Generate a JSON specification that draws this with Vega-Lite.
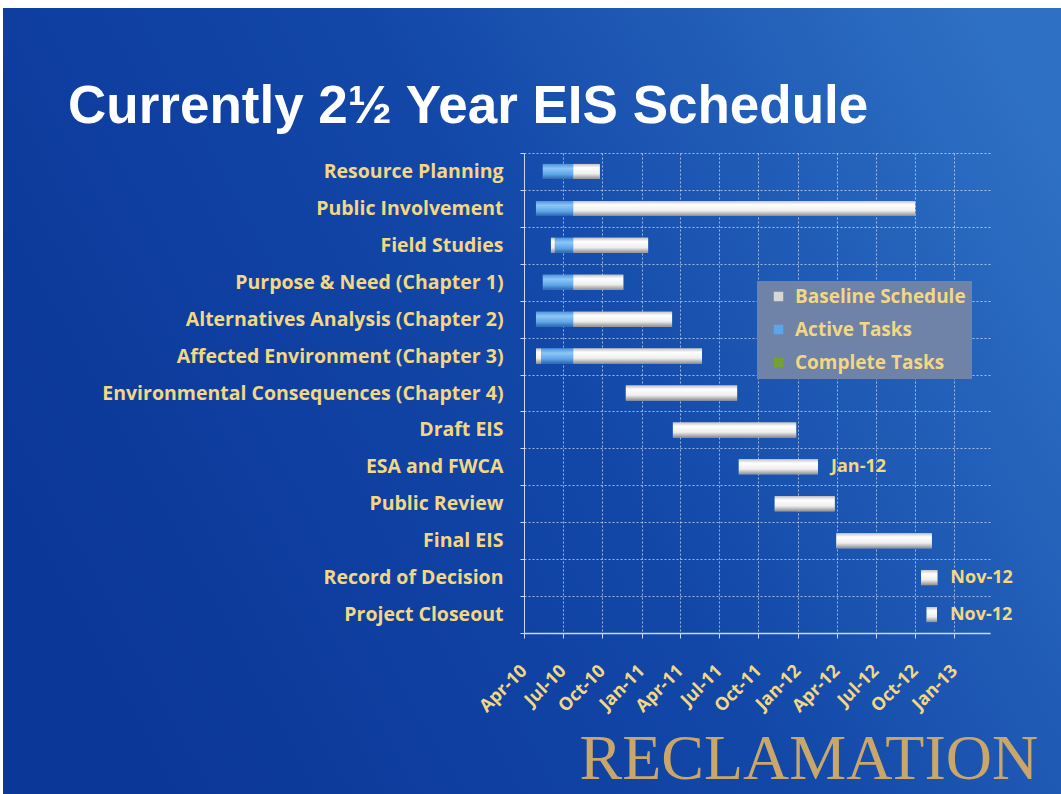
{
  "$schema": "https://vega.github.io/schema/vega-lite/v6.json",
  "width": 1058,
  "height": 786,
  "autosize": "none",
  "padding": {"top": 8, "left": 3, "right": 0, "bottom": 0},
  "background": "white",
  "title": {
    "text": "Currently 2½ Year EIS Schedule",
    "anchor": "start",
    "frame": "group",
    "font": "Liberation Sans",
    "fontSize": 53,
    "fontWeight": "bold",
    "color": "white",
    "baseline": "alphabetic",
    "offset": 0,
    "dx": 65,
    "dy": 178
  },
  "data": {
    "values": [
      {"task": "Resource Planning", "type": "Active Tasks", "start": "2010-05-15", "end": "2010-07-25"},
      {"task": "Resource Planning", "type": "Baseline Schedule", "start": "2010-07-25", "end": "2010-09-25"},
      {"task": "Public Involvement", "type": "Active Tasks", "start": "2010-04-29", "end": "2010-07-25"},
      {"task": "Public Involvement", "type": "Baseline Schedule", "start": "2010-07-25", "end": "2012-10-01"},
      {"task": "Field Studies", "type": "Baseline Schedule", "start": "2010-06-03", "end": "2010-06-12"},
      {"task": "Field Studies", "type": "Active Tasks", "start": "2010-06-12", "end": "2010-07-25"},
      {"task": "Field Studies", "type": "Baseline Schedule", "start": "2010-07-25", "end": "2011-01-16"},
      {"task": "Purpose & Need (Chapter 1)", "type": "Active Tasks", "start": "2010-05-15", "end": "2010-07-25"},
      {"task": "Purpose & Need (Chapter 1)", "type": "Baseline Schedule", "start": "2010-07-25", "end": "2010-11-19"},
      {"task": "Alternatives Analysis (Chapter 2)", "type": "Active Tasks", "start": "2010-04-29", "end": "2010-07-25"},
      {"task": "Alternatives Analysis (Chapter 2)", "type": "Baseline Schedule", "start": "2010-07-25", "end": "2011-03-13"},
      {"task": "Affected Environment (Chapter 3)", "type": "Baseline Schedule", "start": "2010-04-29", "end": "2010-05-11"},
      {"task": "Affected Environment (Chapter 3)", "type": "Active Tasks", "start": "2010-05-11", "end": "2010-07-25"},
      {"task": "Affected Environment (Chapter 3)", "type": "Baseline Schedule", "start": "2010-07-25", "end": "2011-05-22"},
      {"task": "Environmental Consequences (Chapter 4)", "type": "Baseline Schedule", "start": "2010-11-25", "end": "2011-08-12"},
      {"task": "Draft EIS", "type": "Baseline Schedule", "start": "2011-03-15", "end": "2011-12-28"},
      {"task": "ESA and FWCA", "type": "Baseline Schedule", "start": "2011-08-16", "end": "2012-02-17", "label": "Jan-12"},
      {"task": "Public Review", "type": "Baseline Schedule", "start": "2011-11-08", "end": "2012-03-27"},
      {"task": "Final EIS", "type": "Baseline Schedule", "start": "2012-03-31", "end": "2012-11-09"},
      {"task": "Record of Decision", "type": "Baseline Schedule", "start": "2012-10-15", "end": "2012-11-22", "label": "Nov-12"},
      {"task": "Project Closeout", "type": "Baseline Schedule", "start": "2012-10-28", "end": "2012-11-21", "label": "Nov-12"}
    ]
  },
  "encoding": {
    "y": {
      "field": "task",
      "type": "nominal",
      "scale": {
        "domain": ["Resource Planning", "Public Involvement", "Field Studies", "Purpose & Need (Chapter 1)", "Alternatives Analysis (Chapter 2)", "Affected Environment (Chapter 3)", "Environmental Consequences (Chapter 4)", "Draft EIS", "ESA and FWCA", "Public Review", "Final EIS", "Record of Decision", "Project Closeout"],
        "range": [145, 625],
        "paddingInner": 0,
        "paddingOuter": 0
      },
      "axis": {
        "orient": "left",
        "offset": -521,
        "title": null,
        "grid": true,
        "tickBand": "extent",
        "gridColor": "#d8e4fa",
        "gridOpacity": 0.7,
        "gridDash": [2, 2],
        "labelFont": "Open Sans",
        "labelFontWeight": "bold",
        "labelFontSize": 19.5,
        "labelColor": "#f2d784",
        "labelPadding": 17,
        "labelLimit": 0,
        "tickSize": 4,
        "tickColor": "#c9d8f5",
        "domain": true,
        "domainColor": "#c9d8f5"
      }
    }
  },
  "layer": [
    {
      "mark": {"type": "bar", "height": 15},
      "encoding": {
        "x": {
          "field": "start",
          "type": "temporal",
          "scale": {
            "type": "utc",
            "domain": [{"year": 2010, "month": 4, "date": 1, "utc": true}, {"year": 2013, "month": 3, "date": 25, "utc": true}],
            "range": [521, 987]
          },
          "axis": {
            "orient": "bottom",
            "offset": -161,
            "grid": false,
            "format": "%b-%y",
            "tickCount": {"interval": "month", "step": 3},
            "labelAngle": -45,
            "labelAlign": "right",
            "labelBaseline": "middle",
            "labelPadding": 30,
            "labelFont": "Open Sans",
            "labelFontWeight": "bold",
            "labelFontSize": 18,
            "labelColor": "#f2d784",
            "labelOverlap": false,
            "labelFlush": false,
            "labelBound": false,
            "tickSize": 5,
            "tickColor": "#c9d8f5",
            "domainColor": "#c9d8f5",
            "domainWidth": 1.5,
            "title": "RECLAMATION",
            "titleFont": "Liberation Serif",
            "titleFontSize": 64,
            "titleFontWeight": "normal",
            "titleColor": "#c9a76b",
            "titleX": 576,
            "titleY": 145,
            "titleAlign": "left",
            "titleBaseline": "alphabetic"
          }
        },
        "x2": {"field": "end"},
        "color": {
          "field": "type",
          "type": "nominal",
          "scale": {
            "domain": ["Baseline Schedule", "Active Tasks", "Complete Tasks"],
            "range": ["#d6d6d6", "#5aa6ea", "#74a034"]
          },
          "legend": {
            "orient": "none",
            "legendX": 754,
            "legendY": 273,
            "title": null,
            "fillColor": "#6f82a8",
            "padding": 6,
            "symbolType": "square",
            "symbolSize": 90,
            "symbolStrokeWidth": 0,
            "symbolOffset": 6,
            "labelOffset": 7,
            "labelFont": "Open Sans",
            "labelFontWeight": "bold",
            "labelFontSize": 19,
            "labelColor": "#f2d784",
            "rowPadding": 13,
            "labelLimit": 0
          }
        }
      }
    },
    {
      "transform": [{"filter": "datum.type === 'Baseline Schedule'"}],
      "mark": {
        "type": "bar",
        "height": 15,
        "fill": {
          "gradient": "linear",
          "x1": 0, "y1": 0, "x2": 0, "y2": 1,
          "stops": [
            {"offset": 0, "color": "#c4c4c4"},
            {"offset": 0.25, "color": "#ffffff"},
            {"offset": 0.65, "color": "#eeeeee"},
            {"offset": 1, "color": "#8f8f8f"}
          ]
        }
      },
      "encoding": {
        "x": {
          "field": "start",
          "type": "temporal",
          "axis": {
            "orient": "top",
            "grid": true,
            "labels": false,
            "ticks": false,
            "domain": false,
            "title": null,
            "tickCount": {"interval": "month", "step": 3},
            "gridColor": "#d8e4fa",
            "gridOpacity": 0.7,
            "gridDash": [2, 2]
          }
        },
        "x2": {"field": "end"}
      }
    },
    {
      "transform": [{"filter": "datum.type === 'Active Tasks'"}],
      "mark": {
        "type": "bar",
        "height": 15,
        "fill": {
          "gradient": "linear",
          "x1": 0, "y1": 0, "x2": 0, "y2": 1,
          "stops": [
            {"offset": 0, "color": "#4f94dc"},
            {"offset": 0.3, "color": "#8cc6f6"},
            {"offset": 0.7, "color": "#5ea4e8"},
            {"offset": 1, "color": "#2c64ad"}
          ]
        }
      },
      "encoding": {
        "x": {"field": "start", "type": "temporal", "axis": null},
        "x2": {"field": "end"}
      }
    },
    {
      "transform": [{"filter": "isValid(datum.label)"}],
      "mark": {
        "type": "text",
        "align": "left",
        "baseline": "middle",
        "dx": 13,
        "font": "Open Sans",
        "fontWeight": "bold",
        "fontSize": 18,
        "color": "#f2d784"
      },
      "encoding": {
        "x": {"field": "end", "type": "temporal", "axis": null},
        "text": {"field": "label"}
      }
    }
  ],
  "resolve": {"axis": {"x": "independent"}},
  "config": {
    "view": {
      "stroke": null,
      "fill": {
        "gradient": "linear",
        "x1": 0, "y1": 0.6, "x2": 1, "y2": 0.2,
        "stops": [
          {"offset": 0, "color": "#0b3798"},
          {"offset": 0.5, "color": "#1247a8"},
          {"offset": 1, "color": "#2e70c4"}
        ]
      }
    }
  }
}
